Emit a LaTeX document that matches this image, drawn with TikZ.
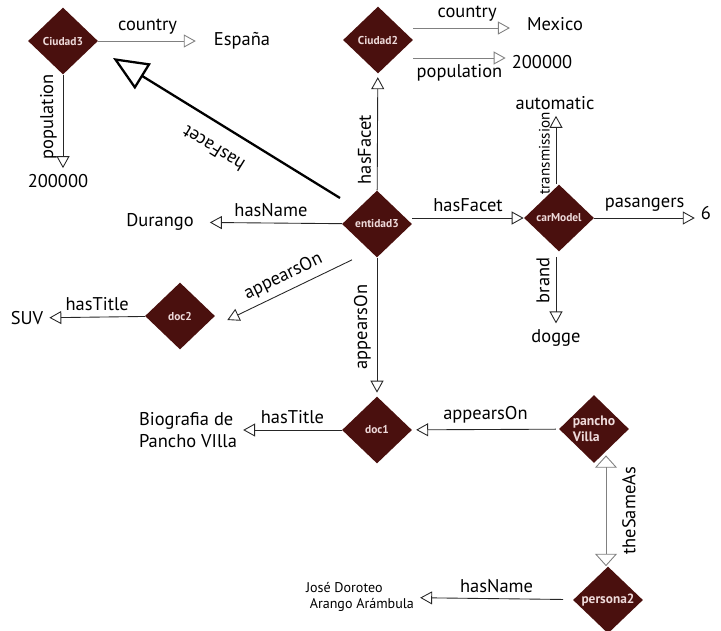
\documentclass[tikz,border=0pt]{standalone}
\usepackage{fontspec}
\setmainfont{PT Sans}
\usetikzlibrary{shapes,arrows,arrows.meta}
\definecolor{wine}{RGB}{74,16,14}
\definecolor{rose}{RGB}{238,218,218}
\tikzstyle{d} = [diamond, aspect=1, fill=wine, text=rose, inner sep=0pt, minimum width=1.4cm, minimum height=1.34cm, font=\fontsize{6.5}{7.5}\selectfont\bfseries]
\tikzstyle{lk} = [line width=0.5pt, draw=black!85, -{Triangle[open,length=6.8pt,width=7.4pt]}]
\tikzstyle{gl} = [lk, draw=gray]

\begin{document}
\begin{tikzpicture}[node distance=2cm, font=\fontsize{10.5}{12.5}\selectfont]
		\useasboundingbox (0,0) rectangle (14.42,-12.6);
		\node[d](e3) at (7.54,-4.48){entidad3};
		\node[d,left of=e3,xshift=-4.28cm,yshift=3.66cm](c3){Ciudad3};
		\node[d,above of=e3,xshift=0.02cm,yshift=1.68cm](c2){Ciudad2};
		\node[d,right of=e3,xshift=1.64cm,yshift=0.12cm](cm){carModel};
		\node[d,left of=e3,xshift=-1.94cm,yshift=-1.84cm](d2){doc2};
		\node[d,below of=e3,yshift=-2.12cm](d1){doc1};
		\node[d,right of=d1,xshift=2.34cm,yshift=0.02cm,align=left,font=\fontsize{7.8}{9}\selectfont\bfseries](pv){pancho\\Villa};
		\node[d,below of=pv,xshift=0.28cm,yshift=-1.42cm,font=\fontsize{7.6}{9}\selectfont\bfseries](p2){persona2};
		
		\node[right of=c3,xshift=1.58cm](es){España};
		\node[below of=c3,xshift=-0.1cm,yshift=-0.8cm](pop3){200000};
		\node[right of=c2,xshift=1.54cm,yshift=0.32cm](mx){Mexico};
		\node[right of=c2,xshift=1.28cm,yshift=-0.44cm](pop2){200000};
		\node[left of=e3,xshift=-2.34cm,yshift=0.04cm](dur){Durango};
		\node[above of=cm,xshift=-0.08cm,yshift=0.3cm](aut){automatic};
		\node[right of=cm,xshift=0.94cm,yshift=0.1cm](six){6};
		\node[below of=cm,xshift=-0.06cm,yshift=-0.4cm](dog){dogge};
		\node[left of=d2,xshift=-1.06cm,yshift=-0.04cm](suv){SUV};
		\node[left of=d1,xshift=-1.78cm,align=left](bio){Biografia de\\Pancho VIlla};
		\node[left of=p2,xshift=-2.96cm,yshift=0.06cm,align=left,font=\fontsize{8}{9.5}\selectfont](jose){José Doroteo\\\ Arango Arámbula};
		
		\draw[gl,shorten >=0.24cm] (c3) -- (es) node[pos=0.45,above]{country};
		\draw[lk] (c3) -- (c3 |- pop3.north) node[pos=0.45,rotate=90,above]{population};
		\draw[line width=1.3pt,allow upside down,-{Triangle[open,length=20pt,width=17pt]}] ([shift={(-0.74cm,0.52cm)}]e3.center) -- ([shift={(1cm,-0.34cm)}]c3.center) node[midway,sloped,above=0.22cm]{hasFacet};
		\draw[lk,shorten >=2pt] (e3) -- (c2) node[pos=0.35,rotate=90,above]{hasFacet};
		\draw[gl,shorten >=0.22cm] ([yshift=0.24cm]c2.east) -- ([yshift=0.24cm]c2.east -| mx.west) node[midway,above]{country};
		\draw[gl] ([yshift=-0.36cm]c2.east) -- ([yshift=-0.36cm]c2.east -| pop2.west) node[midway,below]{population};
		\draw[lk,shorten >=0.2cm] (e3) -- (dur) node[midway,above]{hasName};
		\draw[lk] (e3.east |- cm) -- (cm) node[midway,above]{hasFacet};
		\draw[lk] ([xshift=-0.06cm]cm.north) -- ([xshift=-0.06cm]cm.north |- aut.south) node[pos=0.45,rotate=90,above,font=\fontsize{8.6}{10}\selectfont]{transmission};
		\draw[lk] (cm) -- (cm -| six.west) node[midway,above]{pasangers};
		\draw[lk,shorten <=0.1cm] ([xshift=-0.06cm]cm.south) -- ([xshift=-0.06cm]cm.south |- dog.north) node[pos=0.4,rotate=90,above]{brand};
		\draw[lk] ([shift={(-0.5cm,-0.04cm)}]e3.south) -- ([shift={(0.24cm,-0.08cm)}]d2.east) node[midway,above,sloped]{appearsOn};
		\draw[lk] (d2) -- (suv) node[midway,above]{hasTitle};
		\draw[lk,shorten >=2pt] (e3) -- (d1) node[midway,rotate=90,above]{appearsOn};
		\draw[lk] (d1) -- (bio) node[midway,above]{hasTitle};
		\draw[lk,shorten <=0.06cm,shorten >=0.08cm] (pv) -- (d1) node[midway,above]{appearsOn};
		\draw[line width=0.5pt,draw=gray,{Triangle[open,length=7pt,width=12.5pt]}-{Triangle[open,length=7pt,width=12.5pt]}] ([xshift=-0.04cm,yshift=0.16cm]pv.south -| p2.north) -- ([xshift=-0.04cm]p2.north) node[midway,rotate=90,below=0.2cm]{theSameAs};
		\draw[lk,shorten <=0.2cm] (p2) -- (jose) node[midway,above]{hasName};
		\end{tikzpicture}
\end{document}
